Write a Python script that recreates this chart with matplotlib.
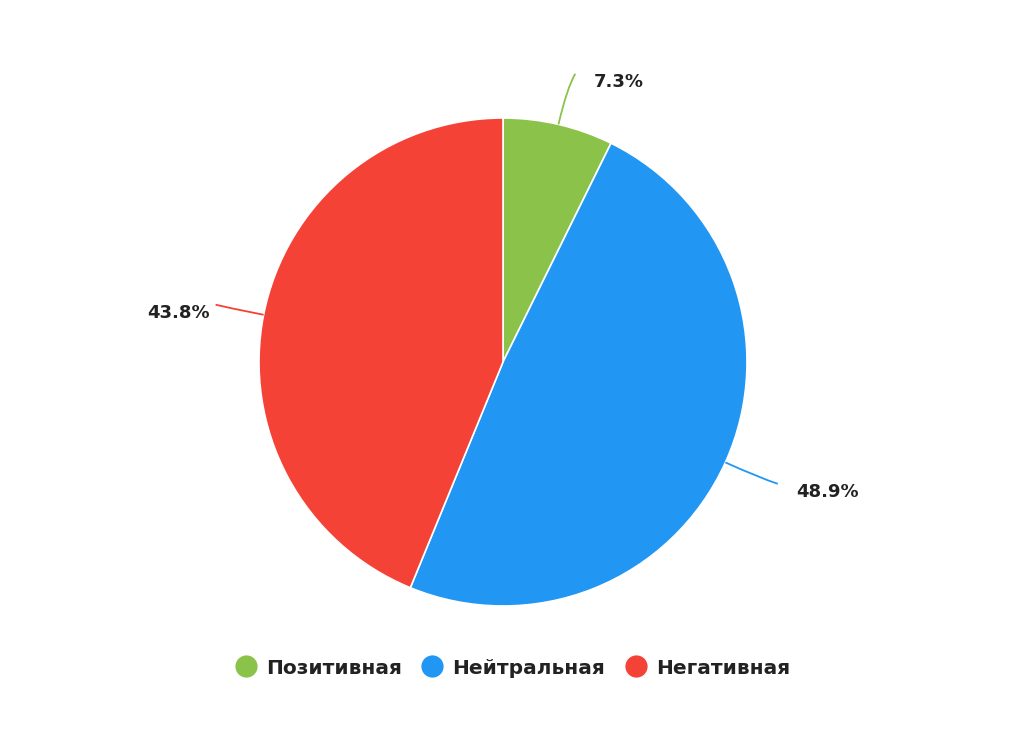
import numpy as np
import matplotlib.pyplot as plt
from matplotlib.lines import Line2D
from matplotlib.path import Path
from matplotlib.patches import PathPatch

# data
categories = ['Позитивная', 'Нейтральная', 'Негативная']
shares = [7.3, 48.9, 43.8]
colors = ['#8BC34A', '#2196F3', '#F44336']

W, H = 1024, 748
cx, cy, R = 503, H - 362, 244  # pie centre/radius in pixel units (y up)

fig = plt.figure(figsize=(W / 100, H / 100), dpi=100)
ax = fig.add_axes([0, 0, 1, 1])
ax.set_xlim(0, W)
ax.set_ylim(0, H)
ax.set_aspect('equal')
ax.axis('off')

wedges, _ = ax.pie(shares, colors=colors, startangle=90, counterclock=False,
                   center=(cx, cy), radius=R,
                   wedgeprops=dict(edgecolor='white', linewidth=1.2))
ax.set_xlim(0, W)
ax.set_ylim(0, H)

# labels with curved connectors
for w, val, col in zip(wedges, shares, colors):
    mid = np.deg2rad((w.theta1 + w.theta2) / 2)
    d = np.array([np.cos(mid), np.sin(mid)])
    p0 = np.array([cx, cy]) + R * d
    p2 = np.array([cx, cy]) + (R + 52) * d
    right = d[0] >= 0
    ctrl = np.array([cx, cy]) + (R + 38) * d
    p2 = p2 + np.array([5 if right else 3, 0])
    path = Path([p0, ctrl, p2], [Path.MOVETO, Path.CURVE3, Path.CURVE3])
    ax.add_patch(PathPatch(path, fc='none', ec=col, lw=1.3))
    gap = 18 if right else 6
    ax.text(p2[0] + (gap if right else -gap), p2[1] - 8, f'{val}%',
            ha='left' if right else 'right', va='center',
            fontsize=13, fontweight='bold', color='#222222',
            family='DejaVu Sans')

handles = [Line2D([0], [0], marker='o', color='w', markerfacecolor=c,
                  markersize=17, linestyle='None') for c in colors]
fig.legend(handles, categories, loc='center', bbox_to_anchor=(0.5, 1 - 668 / H),
           ncol=3, frameon=False, handletextpad=0.4, columnspacing=0.9,
           handlelength=1.2, prop=dict(size=14.5, weight='bold', family='DejaVu Sans'),
           labelcolor='#222222')

fig.savefig('out.png', dpi=100, facecolor='white')
